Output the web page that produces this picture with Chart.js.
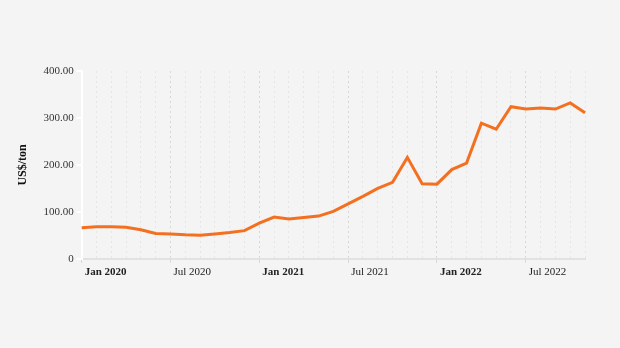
<!DOCTYPE html>
<html lang="en">
<head>
    <meta charset="UTF-8">
    <title>Price (US$/ton)</title>
    <script src="https://cdn.jsdelivr.net/npm/chart.js"></script>
    <style>
        body {
            margin: 0;
            padding: 0;
            background: #f4f4f4;
        }
        #wrap {
            width: 620px;
            height: 348px;
        }
    </style>
</head>
<body>

<div id="wrap"><canvas id="priceChart" width="620" height="348"></canvas></div>

<script>
    // monthly series, Jan 2020 .. Nov 2022
    const months = ["Jan", "Feb", "Mar", "Apr", "May", "Jun", "Jul", "Aug", "Sep", "Oct", "Nov", "Dec"];
    const years = [2020, 2021, 2022];
    const labels = [];
    years.forEach(y => months.forEach(m => labels.push(m + " " + y)));
    labels.length = 35;

    const prices = [
        66, 68, 68, 67, 62, 54, 53, 51, 50, 53, 56, 60,
        76, 89, 85, 88, 91, 101, 117, 133, 150, 163, 216, 160,
        159, 190, 204, 289, 276, 324, 319, 321, 319, 332, 311
    ];

    const yTicks = [0, 100, 200, 300, 400];

    const isJan = i => labels[i].startsWith("Jan");
    const isJul = i => labels[i].startsWith("Jul");

    new Chart(document.getElementById("priceChart"), {
        type: "line",
        data: {
            labels: labels,
            datasets: [{
                data: prices,
                borderColor: "#f37021",
                borderWidth: 3,
                pointRadius: 0,
                tension: 0,
                fill: false
            }]
        },
        options: {
            responsive: false,
            animation: false,
            layout: { padding: { top: 71, right: 35, left: 16, bottom: 66 } },
            plugins: {
                legend: { display: false },
                tooltip: { enabled: false }
            },
            scales: {
                x: {
                    offset: false,
                    border: { color: "#e2e2e2", width: 2, dash: [2, 3] },
                    grid: {
                        color: ctx => (isJan(ctx.index) || isJul(ctx.index)) ? "#d6d6d6" : "#e6e6e6",
                        lineWidth: 1,
                        tickLength: 4,
                        tickColor: ctx => (isJan(ctx.index) || isJul(ctx.index)) ? "#d6d6d6" : "rgba(0,0,0,0)"
                    },
                    ticks: {
                        autoSkip: false,
                        maxRotation: 0,
                        align: "start",
                        labelOffset: 3,
                        padding: 3,
                        color: "#222",
                        font: ctx => ({
                            family: "'Liberation Serif', serif",
                            size: 11,
                            weight: isJan(ctx.index) ? "bold" : "normal"
                        }),
                        callback: (v, i) => (isJan(i) || isJul(i)) ? labels[i] : ""
                    }
                },
                y: {
                    min: 0,
                    max: 400,
                    afterBuildTicks: axis => { axis.ticks = yTicks.map(v => ({ value: v })); },
                    border: { color: "#ffffff", width: 2 },
                    grid: {
                        drawOnChartArea: false,
                        tickLength: 5,
                        tickColor: "#ffffff",
                        lineWidth: 2
                    },
                    ticks: {
                        padding: 3,
                        color: "#333",
                        font: { family: "'Liberation Serif', serif", size: 11 },
                        callback: v => v === 0 ? "0" : v.toFixed(2)
                    },
                    title: {
                        display: true,
                        text: "US$/ton",
                        color: "#111",
                        padding: { top: 0, bottom: 10 },
                        font: { family: "'Liberation Serif', serif", size: 12, weight: "bold" }
                    }
                }
            }
        }
    });
</script>

</body>
</html>
